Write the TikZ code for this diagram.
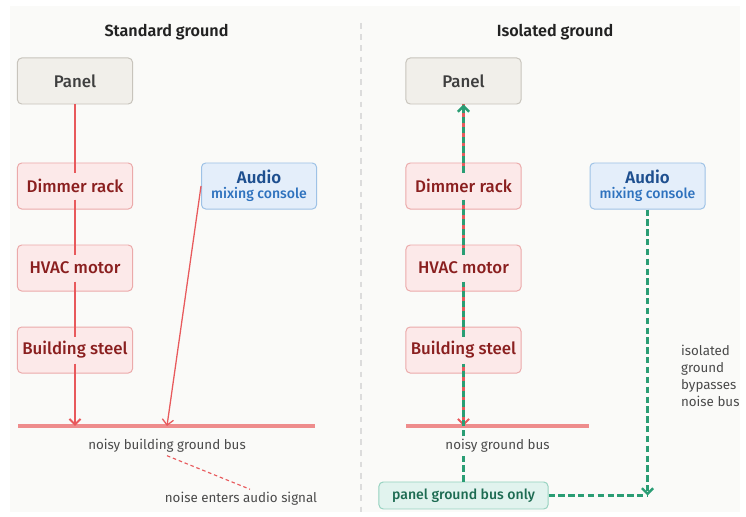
\documentclass[tikz,border=0pt]{standalone}
\usepackage{fontspec}
\setmainfont{Fira Sans}[BoldFont={* SemiBold}]
\newfontfamily\mediumfont{Fira Sans}[UprightFont={* Medium},BoldFont={* SemiBold}]
\usepackage{xcolor}
\usetikzlibrary{arrows.meta,positioning,calc}
\definecolor{Backdrop}{HTML}{FAFAF8}
\definecolor{Divider}{HTML}{DCDCDC}
\definecolor{Ink}{HTML}{222222}
\definecolor{Gray}{HTML}{4A4A4A}
\definecolor{PanelFill}{HTML}{F1EFEA}
\definecolor{PanelLine}{HTML}{C8C4BC}
\definecolor{PanelInk}{HTML}{3F3F3F}
\definecolor{LoadFill}{HTML}{FCE9E9}
\definecolor{LoadLine}{HTML}{EBAAAA}
\definecolor{LoadInk}{HTML}{8A1F1F}
\definecolor{AudioFill}{HTML}{E4EEFA}
\definecolor{AudioLine}{HTML}{9EC2E6}
\definecolor{AudioInk}{HTML}{1E4F8F}
\definecolor{AudioSub}{HTML}{2E72BE}
\definecolor{Wire}{HTML}{E8595C}
\definecolor{Bus}{HTML}{EE8C8C}
\definecolor{Iso}{HTML}{2A9D74}
\definecolor{IsoFill}{HTML}{E1F3EE}
\definecolor{IsoLine}{HTML}{96D2C0}
\definecolor{IsoInk}{HTML}{1D6B52}
\tikzset{
  box/.style={
    rounded corners=3pt,line width=0.7pt,
    minimum width=2.875cm,minimum height=1.15cm,inner sep=2pt,
    align=center,font=\mediumfont\fontsize{12}{12}\selectfont
  },
  panelbox/.style={box,draw=PanelLine,fill=PanelFill,text=PanelInk},
  loadbox/.style={box,draw=LoadLine,fill=LoadFill,text=LoadInk},
  audiobox/.style={box,draw=AudioLine,fill=AudioFill,text=AudioInk},
  groundbox/.style={
    rounded corners=3pt,line width=0.7pt,draw=IsoLine,fill=IsoFill,text=IsoInk,
    minimum width=4.225cm,minimum height=0.675cm,inner sep=1pt,
    font=\mediumfont\fontsize{10}{12}\selectfont
  },
  heading/.style={font=\bfseries\fontsize{11.5}{13}\selectfont,text=Ink},
  note/.style={font=\fontsize{9.5}{12}\selectfont,text=Gray,inner sep=2pt},
  busline/.style={line width=2.3pt,draw=Bus},
  wire/.style={line width=1.5pt,draw=Wire},
  barb/.style={-{Straight Barb[length=1.4mm,width=2.8mm]}},
  iso/.style={line width=1.7pt,draw=Iso,dash pattern=on 4.5pt off 2.5pt},
  reach/.style={shorten >=-0.25cm}
}

\begin{document}
\begin{tikzpicture}[x=0.025cm,y=-0.025cm]
  \useasboundingbox (0,0) rectangle (746,517);
  \fill[Backdrop] (10,6) rectangle (740,512);
  \draw[Divider,line width=0.9pt,dash pattern=on 4pt off 4pt] (361,23) -- (361,512);

  % left half: everything shares the building steel
  \node[heading] (lhead) at (166.5,32) {Standard ground};
  \node[panelbox] (lpanel) at (75,81) {Panel};
  \node[loadbox,below=1.45cm of lpanel] (ldim) {Dimmer rack};
  \node[loadbox,below=0.875cm of ldim] (lhvac) {HVAC motor};
  \node[loadbox,below=0.875cm of lhvac] (lsteel) {Building steel};
  \node[audiobox,right=1.7cm of ldim] (laudio) {%
    {\bfseries Audio}\\[-1pt]{\fontsize{10}{10}\selectfont\color{AudioSub}mixing console}};

  \coordinate (lbusL) at (18,426);
  \coordinate (lbusR) at (315,426);
  \coordinate (ltap) at (167,426);
  \draw[busline] (lbusL) -- (lbusR);
  \node[note] (lbusnote) at (167,446) {noisy building ground bus};
  \node[note] (lnoise) at (241,499) {noise enters audio signal};

  \draw[wire,reach] (lpanel) -- (ldim);
  \foreach \a/\b in {ldim/lhvac,lhvac/lsteel}
    \draw[wire,reach,shorten <=-0.25cm] (\a) -- (\b);
  \draw[wire,barb,shorten <=-0.25cm] (lsteel) -- (lsteel |- lbusL);
  \draw[Wire,line width=0.9pt,barb] (laudio.west) -- (ltap);
  \draw[Wire,line width=0.8pt,dash pattern=on 2.5pt off 2pt]
    (lbusnote.south) -- ($(lnoise.north)+(9,0)$);

  % right half: separate return to the panel
  \node[heading] (rhead) at (555,32) {Isolated ground};
  \node[panelbox] (rpanel) at (463.5,81) {Panel};
  \node[loadbox,below=1.45cm of rpanel] (rdim) {Dimmer rack};
  \node[loadbox,below=0.875cm of rdim] (rhvac) {HVAC motor};
  \node[loadbox,below=0.875cm of rhvac] (rsteel) {Building steel};
  \node[audiobox,right=1.7cm of rdim] (raudio) {%
    {\bfseries Audio}\\[-1pt]{\fontsize{10}{10}\selectfont\color{AudioSub}mixing console}};

  \coordinate (rbusL) at (406,426);
  \coordinate (rbusR) at (589,426);
  \draw[busline] (rbusL) -- (rbusR);
  \node[note] (rbusnote) at (497.5,446) {noisy ground bus};
  \node[groundbox] (gbus) at (463.5,495.5) {panel ground bus only};
  \node[note,align=left,anchor=west] (rnote) at (678,376)
    {isolated\\ground\\bypasses\\noise bus};

  \draw[wire,reach] (rpanel) -- (rdim);
  \foreach \a/\b in {rdim/rhvac,rhvac/rsteel}
    \draw[wire,reach,shorten <=-0.25cm] (\a) -- (\b);
  \draw[wire,barb,shorten <=-0.25cm] (rsteel) -- (rsteel |- rbusL);

  \draw[iso] (gbus) -- (gbus |- rbusnote.south);
  \draw[iso,reach] (rsteel |- rbusnote.north) -- (rsteel);
  \foreach \a/\b in {rsteel/rhvac,rhvac/rdim}
    \draw[iso,reach,shorten <=-0.25cm] (\a) -- (\b);
  \draw[iso,barb,shorten <=-0.25cm] (rdim) -- (rpanel);
  \draw[iso,barb] (raudio) -- (raudio |- gbus);
  \draw[iso] (gbus) -- (raudio |- gbus);
\end{tikzpicture}
\end{document}
